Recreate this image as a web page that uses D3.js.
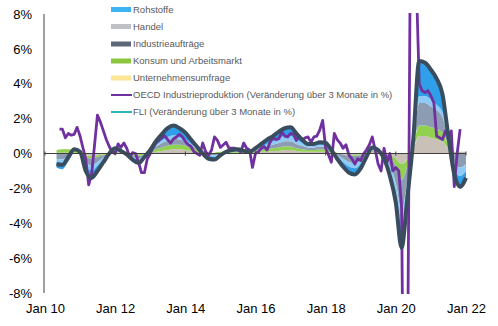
<!DOCTYPE html>
<html>
<head>
<meta charset="utf-8">
<script src="https://cdn.jsdelivr.net/npm/d3@7"></script>
<style>
  body { margin: 0; background: #fff; }
  svg { font-family: "Liberation Sans", Arial, sans-serif; }
</style>
</head>
<body>
<script>
// bi-monthly FLI and its components (May 2010 .. Jan 2022)
const fli = [-0.6, -0.65, -0.2, 0.25,
  0.1, -1.0, -1.4, -1.0, -0.5, 0.0,
  0.3, 0.15, -0.05, -0.35, -0.55, -0.2,
  0.2, 0.7, 1.1, 1.45, 1.6, 1.45,
  1.2, 0.8, 0.4, 0.0, -0.3, -0.35,
  -0.1, 0.1, 0.2, 0.25, 0.15, 0.1,
  0.3, 0.55, 0.8, 1.0, 1.25, 1.45,
  1.5, 1.15, 0.8, 0.55, 0.55, 0.65,
  0.6, 0.2, -0.3, -0.75, -1.1, -1.2,
  -0.85, -0.2, 0.35, 0.2, -0.3, -1.3,
  -2.8, -5.4, -2.5, 0.8, 5.3, 5.2,
  4.8, 4.3, 3.4, 1.0, -1.2, -1.9,
  -1.4];
const handel = [0.05, 0.05, 0.05, 0.05,
  0.0, -0.1, -0.15, -0.1, -0.05, 0.05,
  0.05, 0.05, 0.0, -0.05, -0.05, 0.0,
  0.05, 0.1, 0.15, 0.2, 0.25, 0.25,
  0.2, 0.15, 0.1, 0.05, 0.0, 0.0,
  0.05, 0.05, 0.05, 0.05, 0.05, 0.05,
  0.05, 0.1, 0.1, 0.15, 0.15, 0.2,
  0.2, 0.15, 0.1, 0.1, 0.1, 0.1,
  0.1, 0.05, 0.0, -0.05, -0.1, -0.1,
  -0.05, 0.0, 0.1, 0.05, 0.0, -0.1,
  -0.3, -0.6, -0.3, 0.3, 1.0, 1.0,
  0.9, 0.8, 0.7, 0.3, 0.1, 0.1,
  0.1];
const konsum = [0.15, 0.2, 0.2, 0.15,
  0.1, -0.1, -0.15, -0.1, -0.05, 0.0,
  0.05, 0.0, 0.0, -0.05, -0.1, -0.05,
  0.05, 0.15, 0.2, 0.25, 0.25, 0.25,
  0.25, 0.2, 0.1, 0.05, 0.0, 0.05,
  0.05, 0.05, 0.05, 0.05, 0.05, 0.05,
  0.1, 0.1, 0.15, 0.15, 0.2, 0.2,
  0.2, 0.15, 0.15, 0.1, 0.1, 0.15,
  0.15, 0.1, 0.05, 0.0, -0.05, -0.05,
  -0.05, 0.0, 0.05, 0.05, 0.05, -0.1,
  -0.4, -0.9, -0.4, 0.2, 0.6, 0.6,
  0.6, 0.6, 0.5, 0.2, 0.0, 0.0,
  0.0];
const auftraege = [-0.3, -0.35, -0.15, 0.0,
  -0.05, -0.3, -0.4, -0.3, -0.15, -0.05,
  0.05, 0.0, -0.05, -0.1, -0.15, -0.05,
  0.05, 0.15, 0.25, 0.3, 0.35, 0.3,
  0.25, 0.15, 0.05, -0.05, -0.1, -0.1,
  -0.05, 0.0, 0.05, 0.05, 0.0, 0.0,
  0.05, 0.1, 0.15, 0.2, 0.25, 0.3,
  0.3, 0.25, 0.2, 0.15, 0.15, 0.15,
  0.15, 0.05, -0.1, -0.25, -0.35, -0.4,
  -0.3, -0.1, 0.05, 0.0, -0.15, -0.5,
  -1.0, -1.8, -0.9, 0.2, 1.3, 1.3,
  1.2, 1.1, 0.9, 0.3, -0.5, -0.8,
  -0.6];
const umfrage = [-0.2, -0.25, -0.1, 0.05,
  0.05, -0.2, -0.3, -0.2, -0.1, 0.0,
  0.05, 0.05, 0.0, -0.05, -0.1, -0.05,
  0.0, 0.1, 0.15, 0.2, 0.2, 0.15,
  0.1, 0.05, 0.05, 0.0, -0.05, -0.1,
  -0.05, 0.0, 0.0, 0.05, 0.0, 0.0,
  0.05, 0.1, 0.15, 0.2, 0.25, 0.3,
  0.3, 0.25, 0.15, 0.1, 0.1, 0.1,
  0.1, 0.0, -0.1, -0.2, -0.25, -0.3,
  -0.2, -0.05, 0.05, 0.05, -0.1, -0.3,
  -0.5, -1.0, -0.4, 0.05, 0.4, 0.4,
  0.4, 0.3, 0.3, 0.1, -0.3, -0.5,
  -0.4];
const rohstoffe = [-0.3, -0.3, -0.2, 0.0,
  0.0, -0.3, -0.4, -0.3, -0.15, 0.0,
  0.1, 0.05, 0.0, -0.1, -0.15, -0.05,
  0.05, 0.2, 0.35, 0.5, 0.55, 0.5,
  0.4, 0.25, 0.1, -0.05, -0.15, -0.2,
  -0.1, 0.0, 0.05, 0.05, 0.05, 0.0,
  0.05, 0.15, 0.25, 0.3, 0.4, 0.45,
  0.5, 0.35, 0.2, 0.1, 0.1, 0.15,
  0.1, 0.0, -0.15, -0.25, -0.35, -0.35,
  -0.25, -0.05, 0.1, 0.05, -0.1, -0.3,
  -0.6, -1.1, -0.5, 0.05, 2.0, 1.9,
  1.7, 1.5, 1.0, 0.1, -0.5, -0.7,
  -0.5];

// monthly OECD industrial production (Jun 2010 .. Nov 2021)
const oecd2010 = [1.4, 1.4, 0.9, 1.15, 1.05, 1.1, 1.5];
const oecd2011 = [1.0, 0.3, -0.3, -1.8, -1.2, 0.5, 2.2, 1.8, 1.3, 0.8, 0.4, 0.1];
const oecd2012 = [0.0, 0.55, 0.35, 0.6, 0.3, -0.2, 0.05, 0.0, -0.5, -1.1, -1.1, -0.3];
const oecd2013 = [0.0, 0.35, 0.6, 0.75, 0.9, 1.0, 0.8, 0.6, 0.85, 0.95, 1.1, 0.95];
const oecd2014 = [0.7, 0.5, 0.4, 0.1, 0.0, -0.1, 0.6, 0.1, -0.1, 0.2, 0.95, 0.75];
const oecd2015 = [0.35, 0.5, 0.65, 0.3, 0.3, 0.3, 0.2, 0.1, 0.6, 0.3, 0.2, -0.8];
const oecd2016 = [0.0, 0.1, 0.3, 0.4, 0.2, 0.65, 0.9, 0.8, 0.85, 1.25, 1.0, 0.95];
const oecd2017 = [1.15, 1.1, 0.75, 1.0, 0.75, 0.9, 0.95, 0.65, 0.95, 1.0, 1.35, 1.9];
const oecd2018 = [0.3, -0.1, -0.5, 1.15, 0.8, 0.6, 0.3, 0.5, -0.1, -0.3, -0.6, -0.3];
const oecd2019 = [-0.4, 0.0, 0.2, 0.5, 0.95, 0.2, -0.6, -1.0, 0.3, -0.5, 0.0, -1.0];
const oecd2020 = [-0.8, -1.0, -3.0, -22, -14, 12, 14, 10, 4.0, 3.6, 3.5, 3.6];
const oecd2021 = [3.3, 2.9, 1.0, 0.9, 0.8, 1.3, 0.9, 1.3, -1.9, 0.0, 1.4];

const legendNames = ["Rohstoffe", "Handel", "Industrieaufträge", "Konsum und Arbeitsmarkt",
  "Unternehmensumfrage", "OECD Industrieproduktion (Veränderung über 3 Monate in %)",
  "FLI (Veränderung über 3 Monate in %)"];
const legendColors = ["#3cb4f2", "#bfc0c6", "#5e6879", "#8cc63f", "#fde597", "#7030a0", "#2bb7b7"];
const yTicks = [-8, -6, -4, -2, 0, 2, 4, 6, 8];
const xTickYears = [2010, 2012, 2014, 2016, 2018, 2020, 2022];

const width = 498, height = 326;
const svg = d3.select("body").append("svg")
  .attr("width", width).attr("height", height);

const x = d3.scaleTime()
  .domain([new Date(2010, 0, 1), new Date(2022, 0, 1)])
  .range([45, 466]);
const y = d3.scaleLinear().domain([-8, 8]).range([293, 14]);

svg.append("defs").append("clipPath").attr("id", "plot")
  .append("rect").attr("x", 44).attr("y", 13).attr("width", 430).attr("height", 281);

// stacked areas
const dates = d3.timeMonth.every(2).range(new Date(2010, 4, 1), new Date(2022, 1, 1));
const comps = [handel, konsum, auftraege, umfrage, rohstoffe];
const compKeys = ["handel", "konsum", "auftraege", "umfrage", "rohstoffe"];
const areaColors = ["#c9c1b8", "#92d050", "#8c9db3", "#8ecaf3", "#2e9fe8"];
const rows = dates.map((d, i) => {
  const r = { date: d };
  compKeys.forEach((k, j) => r[k] = comps[j][i]);
  return r;
});
const stack = d3.stack().keys(compKeys).offset(d3.stackOffsetDiverging);
const layers = stack(rows);
const area = d3.area()
  .x(d => x(d.data.date))
  .y0(d => y(d[0])).y1(d => y(d[1]))
  .curve(d3.curveMonotoneX);

const plot = svg.append("g").attr("clip-path", "url(#plot)");
plot.selectAll(".layer").data(layers).join("path")
  .attr("class", "layer")
  .attr("fill", (d, i) => areaColors[i])
  .attr("d", area);

// zero line and left axis
svg.append("line").attr("x1", 44).attr("x2", 466)
  .attr("y1", y(0)).attr("y2", y(0))
  .attr("stroke", "#404040").attr("stroke-width", 1);
svg.selectAll(".zt").data(xTickYears).join("line")
  .attr("class", "zt")
  .attr("x1", d => x(new Date(d, 0, 1))).attr("x2", d => x(new Date(d, 0, 1)))
  .attr("y1", y(0) - 2).attr("y2", y(0) + 2)
  .attr("stroke", "#404040");
svg.append("line").attr("x1", 44).attr("x2", 44)
  .attr("y1", 14).attr("y2", 293)
  .attr("stroke", "#404040").attr("stroke-width", 1);

// OECD line
const oecd = [].concat(oecd2010, oecd2011, oecd2012, oecd2013, oecd2014, oecd2015,
  oecd2016, oecd2017, oecd2018, oecd2019, oecd2020, oecd2021);
const oecdDates = d3.timeMonth.range(new Date(2010, 5, 1), new Date(2021, 11, 1));
const oecdData = oecdDates.map((d, i) => ({ date: d, value: oecd[i] }));
plot.append("path").datum(oecdData)
  .attr("fill", "none").attr("stroke", "#7030a0").attr("stroke-width", 2.8)
  .attr("stroke-linejoin", "round")
  .attr("d", d3.line().x(d => x(d.date)).y(d => y(d.value)));

// FLI line
const fliData = dates.map((d, i) => ({ date: d, value: fli[i] }));
plot.append("path").datum(fliData)
  .attr("fill", "none").attr("stroke", "#3a4d5e").attr("stroke-width", 4)
  .attr("stroke-linejoin", "round")
  .attr("d", d3.line().x(d => x(d.date)).y(d => y(d.value)).curve(d3.curveMonotoneX));

// axes labels
const yAxis = svg.append("g").attr("transform", "translate(44,0)")
  .call(d3.axisLeft(y).tickValues(yTicks).tickSize(0).tickPadding(12)
    .tickFormat(d => d + "%"));
yAxis.select(".domain").remove();
yAxis.selectAll("text").attr("font-size", 13).attr("fill", "#000")
  .attr("font-family", "Liberation Sans, Arial, sans-serif");

const xAxis = svg.append("g").attr("transform", "translate(0,293)")
  .call(d3.axisBottom(x).tickValues(xTickYears.map(v => new Date(v, 0, 1)))
    .tickSize(0).tickPadding(11).tickFormat(d3.timeFormat("Jan %y")));
xAxis.select(".domain").remove();
xAxis.selectAll("text").attr("font-size", 13).attr("fill", "#000")
  .attr("font-family", "Liberation Sans, Arial, sans-serif");

// legend
const legend = svg.append("g");
const ly = [9.5, 26.5, 44, 61, 78, 95, 112];
legendNames.forEach((name, i) => {
  if (i < 5) {
    legend.append("rect").attr("x", 111).attr("y", ly[i] - 2.5)
      .attr("width", 20).attr("height", 5).attr("fill", legendColors[i]);
  } else {
    legend.append("line").attr("x1", 111).attr("x2", 132)
      .attr("y1", ly[i]).attr("y2", ly[i])
      .attr("stroke", legendColors[i]).attr("stroke-width", 2);
  }
  legend.append("text").attr("x", 133).attr("y", ly[i]).attr("dy", "0.35em")
    .attr("font-size", 9.5).attr("fill", "#595959").text(name);
});
</script>
</body>
</html>
